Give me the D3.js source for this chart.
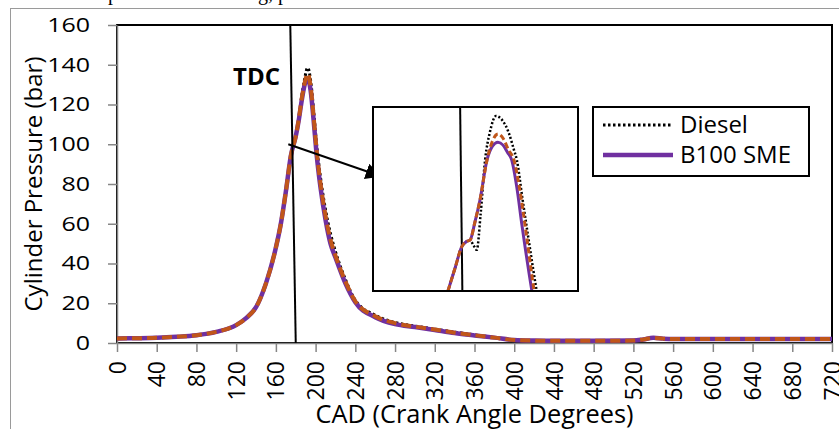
<!DOCTYPE html>
<html><head><meta charset="utf-8">
<script src="https://cdn.jsdelivr.net/npm/d3@7"></script>
<style>body{margin:0;background:#fff}svg{display:block}</style>
</head><body>
<svg id="c" width="839" height="429"></svg>
<script>
// ---- data ----
const cad = [0,20,40,60,80,100,120,130,140,150,160,165,170,175,180,183,186,189,192,195,198,201,205,210,215,220,230,240,260,280,300,320,340,360,380,400,420,440,480,520,530,540,550,560,600,640,680,720];
const diesel = [2.3,2.4,2.6,3.1,3.9,5.6,9,12.5,18,30,48,60,76,94,104,113,124,133,138.5,132,117,100,83,67,55,46,32,21.5,14,10.3,8.5,7,5.5,4.1,2.8,1.6,1.2,1.1,1.1,1.2,1.8,2.6,2.2,2,2,2,2,2];
const b20 = [2.3,2.4,2.6,3.1,3.9,5.6,9,12.5,18,30,48,60,76,94,104,112.5,123,131,135.5,129,114,97,80,64,52,44,31,21,13.5,10,8.2,6.8,5.2,3.9,2.7,1.5,1.2,1.1,1.1,1.2,1.8,2.6,2.2,2,2,2,2,2];
const b100 = [2.3,2.4,2.6,3.1,3.9,5.6,9,12.5,18,30,48,60,76,94,104,112,122,130,133,127,112,95,78,62,50,43,30,20.5,13,9.5,8,6.5,5,3.8,2.7,1.5,1.2,1.1,1.1,1.2,1.8,2.6,2.2,2,2,2,2,2];
const xTicks = d3.range(0, 721, 40);
const yTicks = d3.range(0, 161, 20);
// inset (zoomed view near TDC): [CAD, bar]
const inDiesel = [[175.4,90],[177.6,96.8],[179.7,103.2],[181.2,104.8],[182.3,105.2],[183.4,103.6],[184.4,102.3],[185.6,113],[187,129.2],[188.5,137.5],[190.4,142.3],[192.4,141],[194.3,137.5],[196,132.2],[196.9,129.2],[198.6,118],[200.8,104],[203.1,90],[205,80]];
const inB20 = [[175.4,90],[177.6,96.8],[179.7,103.2],[181.2,104.8],[182.3,105.2],[183.8,110.5],[185.4,117.2],[187.6,129.2],[189.3,134.8],[191,136.9],[192.7,135.5],[194.3,132.2],[196,129.2],[197.7,121],[200,106],[202.3,90],[204,80]];
const inB100 = [[175.4,90],[177.6,96.8],[179.7,103.2],[181.2,104.8],[182.3,105.2],[183.8,110.5],[185.4,117.2],[187.6,129.2],[189.3,133.3],[191,134.5],[192.6,133.6],[194,131.4],[195.3,129.2],[196.9,121],[198.5,109.7],[201.6,90],[203,82]];
const legendNames = ["Diesel", "B100 SME"];
const colors = {diesel:"#000000", b20:"#C0561A", b100:"#7030A0"};

const svg = d3.select("#c");
const ff = "'Open Sans', 'Noto Sans', sans-serif";

// clipped caption fragments at top
svg.append("text").attr("x",108).attr("y",0).attr("font-family","'Liberation Serif', serif")
  .attr("font-size",20).attr("fill","#000").text("p");
svg.append("text").attr("x",258).attr("y",0).attr("font-family","'Liberation Serif', serif")
  .attr("font-size",20).attr("fill","#000").text("g, p");

// outer chart border
svg.append("rect").attr("x",10.5).attr("y",8.5).attr("width",840).attr("height",440)
  .attr("fill","none").attr("stroke","#9a9a9a").attr("stroke-width",1);

const L=117,R=832,T=25,B=343;
const x = d3.scaleLinear().domain([0,720]).range([L,R]);
const y = d3.scaleLinear().domain([0,160]).range([B,T]);

// plot frame
svg.append("rect").attr("x",L).attr("y",T).attr("width",R-L).attr("height",B-T)
  .attr("fill","none").attr("stroke","#000").attr("stroke-width",2);

// axes
const sx = 1.25;
const gy = svg.append("g").attr("transform",`translate(${L},0)`)
  .call(d3.axisLeft(y).tickValues(yTicks).tickSize(9).tickSizeOuter(0));
gy.select(".domain").attr("stroke","#868686").attr("stroke-width",1.5);
gy.selectAll(".tick line").attr("stroke","#868686").attr("stroke-width",1.5);
gy.selectAll(".tick text").attr("font-family",ff).attr("font-size",20).attr("fill","#000")
  .attr("x",-27/sx).attr("transform",`scale(${sx},1)`);

const gx = svg.append("g").attr("transform",`translate(0,${B})`)
  .call(d3.axisBottom(x).tickValues(xTicks).tickSize(9).tickSizeOuter(0));
gx.select(".domain").attr("stroke","#868686").attr("stroke-width",1.5);
gx.selectAll(".tick line").attr("stroke","#868686").attr("stroke-width",1.5);
gx.selectAll(".tick text").attr("font-family",ff).attr("font-size",23).attr("fill","#000")
  .attr("text-anchor","end").attr("dy","0.35em").attr("transform","translate(0,18) rotate(-90)").attr("x",0).attr("y",0);

// axis titles
svg.append("text").attr("transform",`translate(42,${(T+B)/2}) rotate(-90)`).attr("text-anchor","middle")
  .attr("font-family",ff).attr("font-size",24).text("Cylinder Pressure (bar)");
svg.append("text").attr("x",(L+R)/2).attr("y",423).attr("text-anchor","middle")
  .attr("font-family",ff).attr("font-size",25).attr("textLength",318).attr("lengthAdjust","spacingAndGlyphs")
  .text("CAD (Crank Angle Degrees)");

// curves
const mk = vals => d3.line().x((d,i)=>x(cad[i])).y(d=>y(d)).curve(d3.curveMonotoneX)(vals);
svg.append("path").attr("d",mk(diesel)).attr("fill","none").attr("stroke",colors.diesel).attr("stroke-width",3).attr("stroke-dasharray","2.5,2.5");
svg.append("path").attr("d",mk(b100)).attr("fill","none").attr("stroke",colors.b100).attr("stroke-width",4.5);
svg.append("path").attr("d",mk(b20)).attr("fill","none").attr("stroke",colors.b20).attr("stroke-width",4).attr("stroke-dasharray","10,5");

// TDC line
svg.append("line").attr("x1",x(174.5)).attr("y1",y(160)).attr("x2",x(180)).attr("y2",y(0))
  .attr("stroke","#000").attr("stroke-width",2);
svg.append("text").attr("x",233).attr("y",85).attr("font-family",ff).attr("font-weight","bold")
  .attr("font-size",24).text("TDC");

// arrow
const defs = svg.append("defs");
defs.append("marker").attr("id","ah").attr("viewBox","0 0 10 10").attr("refX",9).attr("refY",5)
  .attr("markerWidth",8).attr("markerHeight",8).attr("markerUnits","strokeWidth").attr("orient","auto")
  .append("path").attr("d","M0,0L10,5L0,10z").attr("fill","#000");
svg.append("line").attr("x1",x(172.5)).attr("y1",y(100)).attr("x2",x(265)).attr("y2",y(84))
  .attr("stroke","#000").attr("stroke-width",2).attr("marker-end","url(#ah)");

// inset
const iL=373,iR=578,iT=107,iB=291;
defs.append("clipPath").attr("id","ic").append("rect").attr("x",iL).attr("y",iT).attr("width",iR-iL).attr("height",iB-iT);
const ix = d3.scaleLinear().domain([152,216]).range([iL,iR]);
const iy = d3.scaleLinear().domain([90,145]).range([iB,iT]);
svg.append("rect").attr("x",iL).attr("y",iT).attr("width",iR-iL).attr("height",iB-iT)
  .attr("fill","#fff");
const ig = svg.append("g").attr("clip-path","url(#ic)");
ig.append("line").attr("x1",ix(179.2)).attr("y1",iT).attr("x2",ix(179.9)).attr("y2",iB)
  .attr("stroke","#000").attr("stroke-width",2);
const imk = d3.line().x(d=>ix(d[0])).y(d=>iy(d[1])).curve(d3.curveMonotoneX);
ig.append("path").attr("d",imk(inDiesel)).attr("fill","none").attr("stroke",colors.diesel).attr("stroke-width",2.5).attr("stroke-dasharray","2,2");
ig.append("path").attr("d",imk(inB100)).attr("fill","none").attr("stroke",colors.b100).attr("stroke-width",3);
ig.append("path").attr("d",imk(inB20)).attr("fill","none").attr("stroke",colors.b20).attr("stroke-width",3).attr("stroke-dasharray","6,3");
svg.append("rect").attr("x",iL).attr("y",iT).attr("width",iR-iL).attr("height",iB-iT)
  .attr("fill","none").attr("stroke","#000").attr("stroke-width",2);

// legend
const lg = svg.append("g");
lg.append("rect").attr("x",593).attr("y",107).attr("width",216).attr("height",69)
  .attr("fill","#fff").attr("stroke","#000").attr("stroke-width",2);
const ls = [{dash:"2.5,2.5",c:colors.diesel,w:3},{dash:null,c:colors.b100,w:4.5}];
legendNames.forEach((n,i)=>{
  const yy = 125 + i*30;
  lg.append("line").attr("x1",603).attr("x2",673).attr("y1",yy).attr("y2",yy)
    .attr("stroke",ls[i].c).attr("stroke-width",ls[i].w).attr("stroke-dasharray",ls[i].dash);
  lg.append("text").attr("x",680).attr("y",yy).attr("dy","0.35em").attr("font-family",ff).attr("font-size",24).text(n);
});
</script>
</body></html>
